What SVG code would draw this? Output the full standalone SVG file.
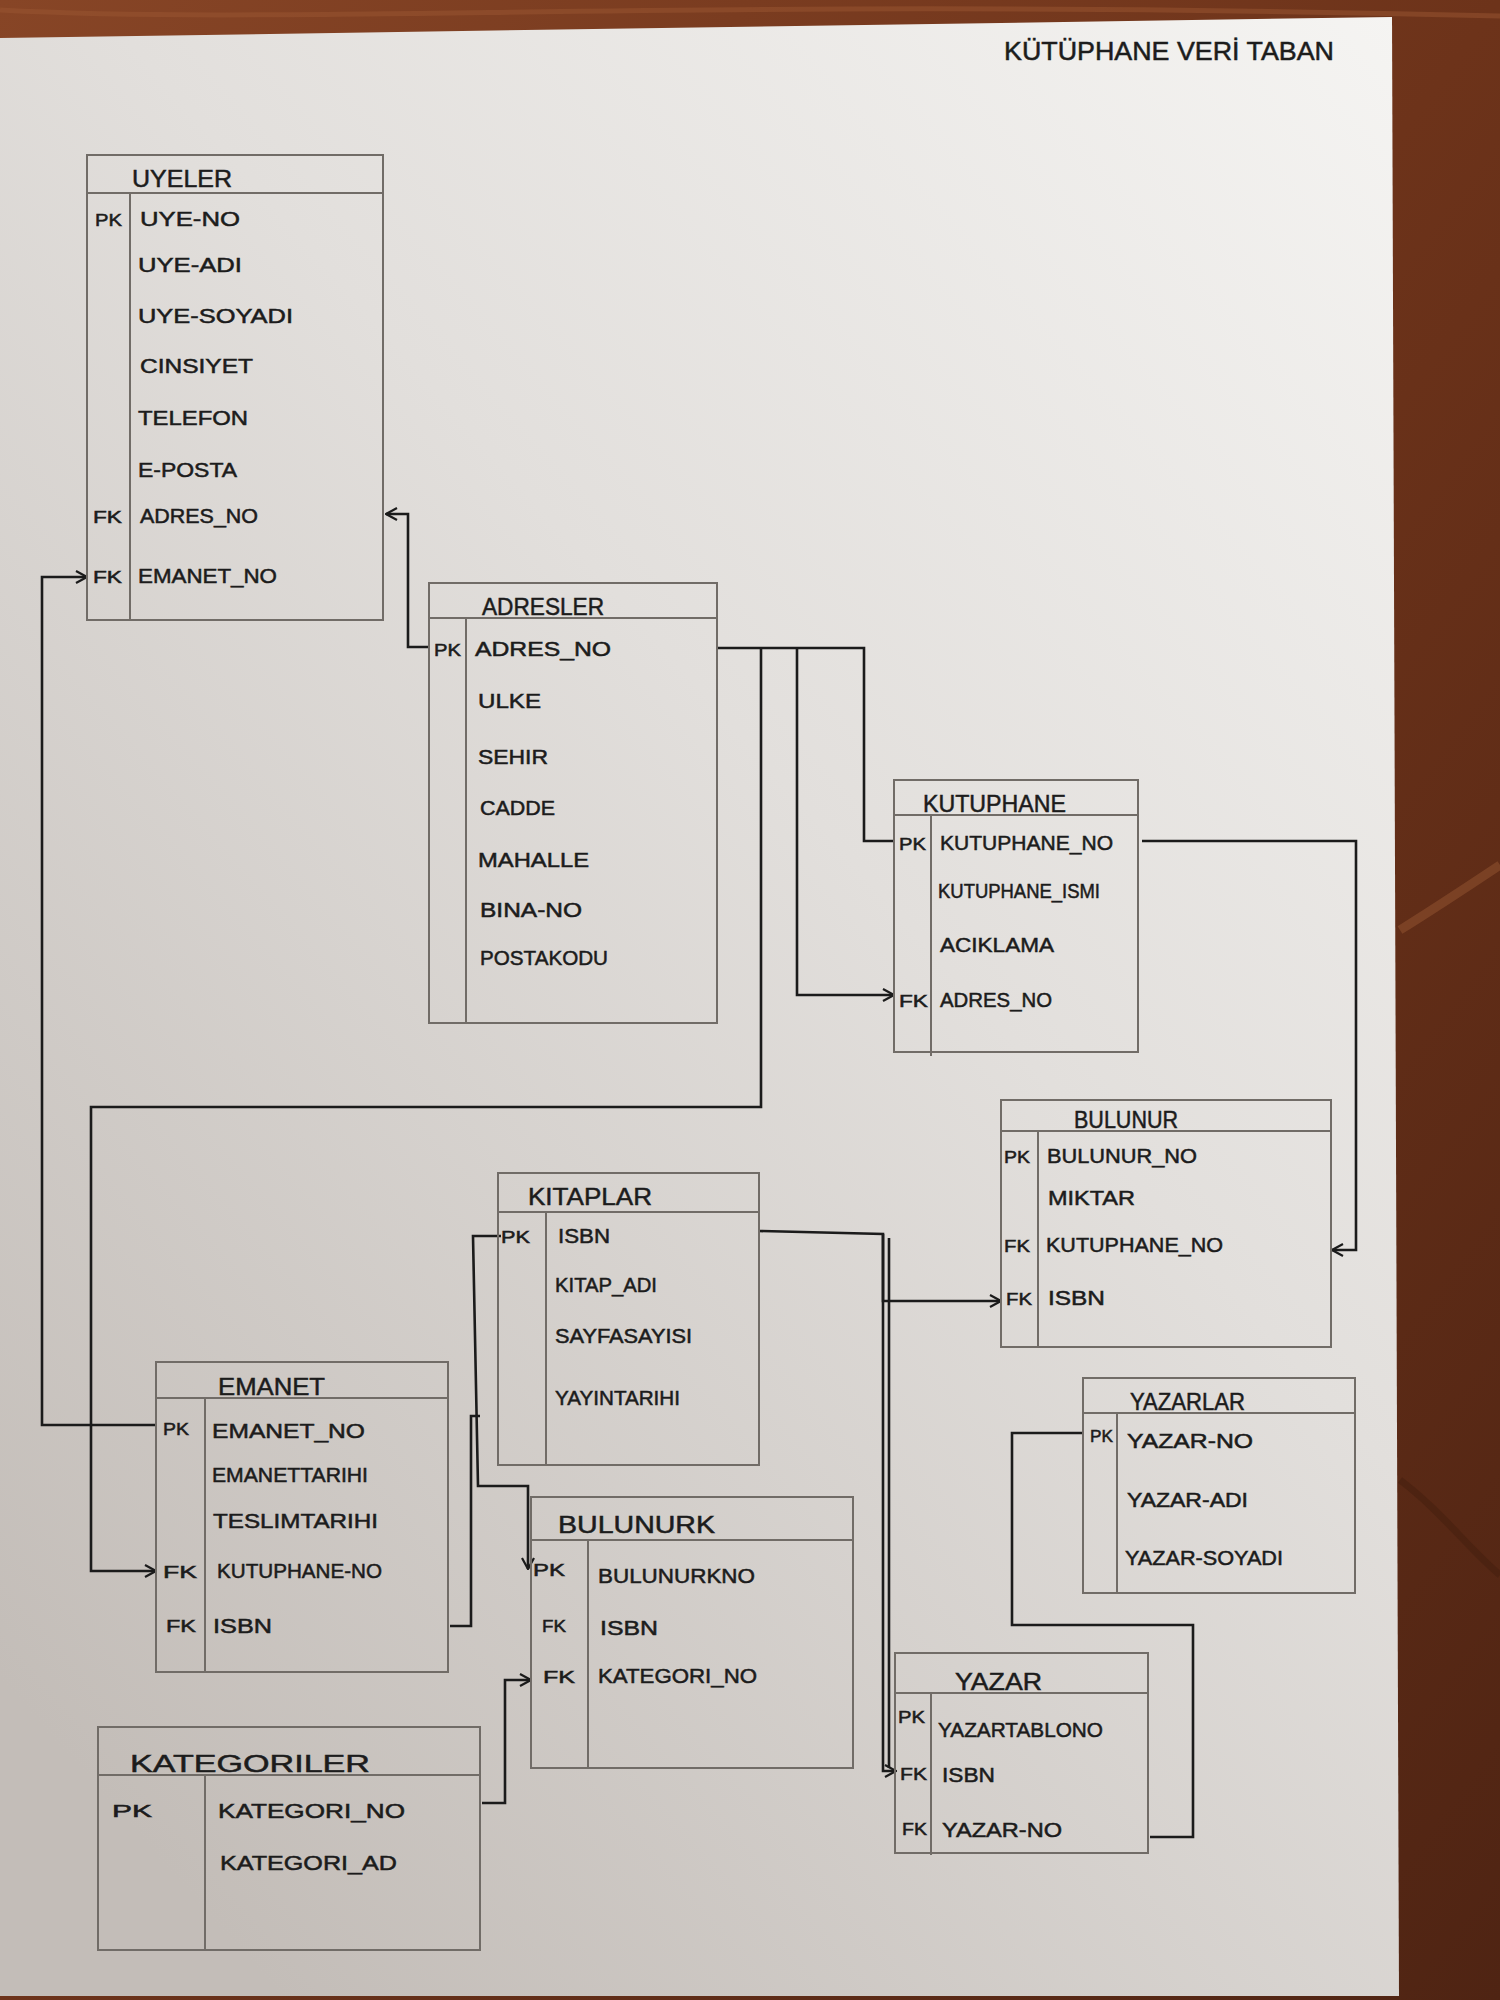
<svg xmlns="http://www.w3.org/2000/svg" width="1500" height="2000" viewBox="0 0 1500 2000">
<defs>
  <linearGradient id="wood" x1="0" y1="0" x2="1" y2="1">
    <stop offset="0" stop-color="#874526"/>
    <stop offset="0.5" stop-color="#6d331a"/>
    <stop offset="1" stop-color="#4f2413"/>
  </linearGradient>
  <linearGradient id="paper" x1="1" y1="0" x2="0.2" y2="1">
    <stop offset="0" stop-color="#f5f4f2"/>
    <stop offset="0.45" stop-color="#e2dfdc"/>
    <stop offset="1" stop-color="#c3bdb8"/>
  </linearGradient>
  <marker id="arr" viewBox="0 0 14 14" refX="13" refY="7" markerWidth="14" markerHeight="14" markerUnits="userSpaceOnUse" orient="auto">
    <path d="M2,1 L13,7 L2,13" fill="none" stroke="#1b1b1b" stroke-width="2.2"/>
  </marker>
</defs>
<style>
  .box{fill:none;stroke:#716c67;stroke-width:2}
  .ln{stroke:#716c67;stroke-width:2;fill:none}
  .c{fill:none;stroke:#1b1b1b;stroke-width:2.6;stroke-linejoin:miter}
  .ca{fill:none;stroke:#1b1b1b;stroke-width:2.6;marker-end:url(#arr)}
  text{font-family:"Liberation Sans",Arial,sans-serif;fill:#1c1c1c;stroke:#1c1c1c;stroke-width:0.5}
  .f{font-size:20px}
  .k{font-size:17px}
  .h{font-size:24px}
</style>

<!-- background -->
<rect x="0" y="0" width="1500" height="2000" fill="url(#wood)"/>
<path d="M0,10 C300,26 700,-4 1500,16" stroke="#9a5532" stroke-width="5" fill="none" opacity="0.5"/>
<path d="M1400,930 C1440,905 1470,885 1500,865" stroke="#9c5a36" stroke-width="9" fill="none" opacity="0.45"/>
<path d="M1400,1480 C1440,1510 1470,1550 1500,1575" stroke="#3f1b0c" stroke-width="7" fill="none" opacity="0.4"/>
<polygon points="0,38 1392,17 1399,1996 0,1996" fill="url(#paper)"/>

<!-- title -->
<text x="1004" y="60" font-size="26" textLength="330" lengthAdjust="spacingAndGlyphs">KÜTÜPHANE VERİ TABAN</text>

<!-- connectors -->
<g id="connectors">
  <path class="ca" d="M429,647 H408 V514 H386"/>
  <path class="c" d="M717,648 H864 V841 H893"/>
  <path class="ca" d="M761,648 V1107 H91 V1571 H156"/>
  <path class="ca" d="M797,648 V995 H894"/>
  <path class="ca" d="M1142,841 H1356 V1250 H1332"/>
  <path class="ca" d="M156,1425 H42 V577 H87"/>
  <path class="ca" d="M501,1236 H473 L478,1486 H528 V1569"/>
  <path class="c" d="M450,1626 H471 V1416 H480"/>
  <path class="ca" d="M482,1803 H505 V1680 H531"/>
  <path class="ca" d="M759,1231 L883,1234 V1301 H1001"/>
  <path class="ca" d="M883,1234 V1771 H896"/>
  <path class="c" d="M889,1238 V1768" stroke-width="2"/>
  <path class="c" d="M1083,1433 H1012 V1625 H1193 V1837 H1150"/>
</g>

<!-- UYELER -->
<g id="uyeler">
  <rect class="box" x="87" y="155" width="296" height="465"/>
  <line class="ln" x1="87" y1="193" x2="383" y2="193"/>
  <line class="ln" x1="130" y1="193" x2="130" y2="620"/>
  <text class="h" x="132" y="187" font-size="21" textLength="100" lengthAdjust="spacingAndGlyphs">UYELER</text>
  <text class="k" x="95" y="226" textLength="27" lengthAdjust="spacingAndGlyphs">PK</text>
  <text class="f" x="140" y="226" font-size="19" textLength="100" lengthAdjust="spacingAndGlyphs">UYE-NO</text>
  <text class="f" x="138" y="272" font-size="19" textLength="104" lengthAdjust="spacingAndGlyphs">UYE-ADI</text>
  <text class="f" x="138" y="323" font-size="19" textLength="155" lengthAdjust="spacingAndGlyphs">UYE-SOYADI</text>
  <text class="f" x="140" y="373" font-size="19" textLength="113" lengthAdjust="spacingAndGlyphs">CINSIYET</text>
  <text class="f" x="138" y="425" font-size="19" textLength="110" lengthAdjust="spacingAndGlyphs">TELEFON</text>
  <text class="f" x="138" y="477" font-size="18" textLength="99" lengthAdjust="spacingAndGlyphs">E-POSTA</text>
  <text class="k" x="93" y="523" textLength="29" lengthAdjust="spacingAndGlyphs">FK</text>
  <text class="f" x="140" y="523" font-size="19" textLength="118" lengthAdjust="spacingAndGlyphs">ADRES_NO</text>
  <text class="k" x="93" y="583" textLength="29" lengthAdjust="spacingAndGlyphs">FK</text>
  <text class="f" x="138" y="583" font-size="19" textLength="139" lengthAdjust="spacingAndGlyphs">EMANET_NO</text>
</g>

<!-- ADRESLER -->
<g id="adresler">
  <rect class="box" x="429" y="583" width="288" height="440"/>
  <line class="ln" x1="429" y1="618" x2="717" y2="618"/>
  <line class="ln" x1="466" y1="618" x2="466" y2="1023"/>
  <text class="h" x="482" y="615" font-size="23" textLength="122" lengthAdjust="spacingAndGlyphs">ADRESLER</text>
  <text class="k" x="434" y="656" font-size="19" textLength="27" lengthAdjust="spacingAndGlyphs">PK</text>
  <text class="f" x="475" y="656" font-size="21" textLength="136" lengthAdjust="spacingAndGlyphs">ADRES_NO</text>
  <text class="f" x="478" y="708" font-size="21" textLength="63" lengthAdjust="spacingAndGlyphs">ULKE</text>
  <text class="f" x="478" y="764" font-size="21" textLength="70" lengthAdjust="spacingAndGlyphs">SEHIR</text>
  <text class="f" x="480" y="815" font-size="21" textLength="75" lengthAdjust="spacingAndGlyphs">CADDE</text>
  <text class="f" x="478" y="867" font-size="21" textLength="111" lengthAdjust="spacingAndGlyphs">MAHALLE</text>
  <text class="f" x="480" y="917" font-size="21" textLength="102" lengthAdjust="spacingAndGlyphs">BINA-NO</text>
  <text class="f" x="480" y="965" font-size="21" textLength="128" lengthAdjust="spacingAndGlyphs">POSTAKODU</text>
</g>

<!-- KUTUPHANE -->
<g id="kutuphane">
  <rect class="box" x="894" y="780" width="244" height="272"/>
  <line class="ln" x1="894" y1="815" x2="1138" y2="815"/>
  <line class="ln" x1="931" y1="815" x2="931" y2="1056"/>
  <text class="h" x="923" y="812" font-size="26" textLength="143" lengthAdjust="spacingAndGlyphs">KUTUPHANE</text>
  <text class="k" x="899" y="850" textLength="27" lengthAdjust="spacingAndGlyphs">PK</text>
  <text class="f" x="940" y="850" font-size="19" textLength="173" lengthAdjust="spacingAndGlyphs">KUTUPHANE_NO</text>
  <text class="f" x="938" y="898" font-size="15" textLength="162" lengthAdjust="spacingAndGlyphs">KUTUPHANE_ISMI</text>
  <text class="f" x="940" y="952" font-size="19" textLength="114" lengthAdjust="spacingAndGlyphs">ACIKLAMA</text>
  <text class="k" x="899" y="1007" textLength="29" lengthAdjust="spacingAndGlyphs">FK</text>
  <text class="f" x="940" y="1007" font-size="19" textLength="112" lengthAdjust="spacingAndGlyphs">ADRES_NO</text>
</g>

<!-- BULUNUR -->
<g id="bulunur">
  <rect class="box" x="1001" y="1100" width="330" height="247"/>
  <line class="ln" x1="1001" y1="1131" x2="1331" y2="1131"/>
  <line class="ln" x1="1038" y1="1131" x2="1038" y2="1347"/>
  <text class="h" x="1074" y="1128" font-size="22" textLength="104" lengthAdjust="spacingAndGlyphs">BULUNUR</text>
  <text class="k" x="1004" y="1163" textLength="26" lengthAdjust="spacingAndGlyphs">PK</text>
  <text class="f" x="1047" y="1163" font-size="19" textLength="150" lengthAdjust="spacingAndGlyphs">BULUNUR_NO</text>
  <text class="f" x="1048" y="1205" font-size="19" textLength="87" lengthAdjust="spacingAndGlyphs">MIKTAR</text>
  <text class="k" x="1004" y="1252" textLength="26" lengthAdjust="spacingAndGlyphs">FK</text>
  <text class="f" x="1046" y="1252" font-size="19" textLength="177" lengthAdjust="spacingAndGlyphs">KUTUPHANE_NO</text>
  <text class="k" x="1006" y="1305" textLength="26" lengthAdjust="spacingAndGlyphs">FK</text>
  <text class="f" x="1048" y="1305" font-size="19" textLength="57" lengthAdjust="spacingAndGlyphs">ISBN</text>
</g>

<!-- KITAPLAR -->
<g id="kitaplar">
  <rect class="box" x="498" y="1173" width="261" height="292"/>
  <line class="ln" x1="498" y1="1212" x2="759" y2="1212"/>
  <line class="ln" x1="546" y1="1212" x2="546" y2="1465"/>
  <text class="h" x="528" y="1205" font-size="25" textLength="124" lengthAdjust="spacingAndGlyphs">KITAPLAR</text>
  <text class="k" x="501" y="1243" font-size="19" textLength="29" lengthAdjust="spacingAndGlyphs">PK</text>
  <text class="f" x="558" y="1243" font-size="22" textLength="52" lengthAdjust="spacingAndGlyphs">ISBN</text>
  <text class="f" x="555" y="1292" font-size="22" textLength="102" lengthAdjust="spacingAndGlyphs">KITAP_ADI</text>
  <text class="f" x="555" y="1343" font-size="22" textLength="137" lengthAdjust="spacingAndGlyphs">SAYFASAYISI</text>
  <text class="f" x="555" y="1405" font-size="22" textLength="125" lengthAdjust="spacingAndGlyphs">YAYINTARIHI</text>
</g>

<!-- EMANET -->
<g id="emanet">
  <rect class="box" x="156" y="1362" width="292" height="310"/>
  <line class="ln" x1="156" y1="1398" x2="448" y2="1398"/>
  <line class="ln" x1="205" y1="1398" x2="205" y2="1672"/>
  <text class="h" x="218" y="1395" font-size="25" textLength="107" lengthAdjust="spacingAndGlyphs">EMANET</text>
  <text class="k" x="163" y="1435" font-size="18" textLength="26" lengthAdjust="spacingAndGlyphs">PK</text>
  <text class="f" x="212" y="1438" font-size="27" textLength="153" lengthAdjust="spacingAndGlyphs">EMANET_NO</text>
  <text class="f" x="212" y="1482" font-size="23" textLength="156" lengthAdjust="spacingAndGlyphs">EMANETTARIHI</text>
  <text class="f" x="213" y="1528" font-size="23" textLength="165" lengthAdjust="spacingAndGlyphs">TESLIMTARIHI</text>
  <text class="k" x="163" y="1578" font-size="23" textLength="34" lengthAdjust="spacingAndGlyphs">FK</text>
  <text class="f" x="217" y="1578" font-size="25" textLength="165" lengthAdjust="spacingAndGlyphs">KUTUPHANE-NO</text>
  <text class="k" x="166" y="1632" font-size="21" textLength="30" lengthAdjust="spacingAndGlyphs">FK</text>
  <text class="f" x="213" y="1633" font-size="23" textLength="59" lengthAdjust="spacingAndGlyphs">ISBN</text>
</g>

<!-- BULUNURK -->
<g id="bulunurk">
  <rect class="box" x="531" y="1497" width="322" height="271"/>
  <line class="ln" x1="531" y1="1540" x2="853" y2="1540"/>
  <line class="ln" x1="588" y1="1540" x2="588" y2="1768"/>
  <text class="h" x="558" y="1533" font-size="30" textLength="157" lengthAdjust="spacingAndGlyphs">BULUNURK</text>
  <text class="k" x="533" y="1576" font-size="19" textLength="32" lengthAdjust="spacingAndGlyphs">PK</text>
  <text class="f" x="598" y="1583" font-size="25" textLength="157" lengthAdjust="spacingAndGlyphs">BULUNURKNO</text>
  <text class="k" x="542" y="1632" font-size="20" textLength="24" lengthAdjust="spacingAndGlyphs">FK</text>
  <text class="f" x="600" y="1635" font-size="24" textLength="58" lengthAdjust="spacingAndGlyphs">ISBN</text>
  <text class="k" x="543" y="1683" font-size="21" textLength="32" lengthAdjust="spacingAndGlyphs">FK</text>
  <text class="f" x="598" y="1683" font-size="23" textLength="159" lengthAdjust="spacingAndGlyphs">KATEGORI_NO</text>
</g>

<!-- KATEGORILER -->
<g id="kategoriler">
  <rect class="box" x="98" y="1727" width="382" height="223"/>
  <line class="ln" x1="98" y1="1775" x2="480" y2="1775"/>
  <line class="ln" x1="205" y1="1775" x2="205" y2="1950"/>
  <text class="h" x="130" y="1772" font-size="39" textLength="240" lengthAdjust="spacingAndGlyphs">KATEGORILER</text>
  <text class="k" x="112" y="1817" font-size="34" textLength="40" lengthAdjust="spacingAndGlyphs">PK</text>
  <text class="f" x="218" y="1818" font-size="32" textLength="187" lengthAdjust="spacingAndGlyphs">KATEGORI_NO</text>
  <text class="f" x="220" y="1870" font-size="33" textLength="177" lengthAdjust="spacingAndGlyphs">KATEGORI_AD</text>
</g>

<!-- YAZARLAR -->
<g id="yazarlar">
  <rect class="box" x="1083" y="1378" width="272" height="215"/>
  <line class="ln" x1="1083" y1="1413" x2="1355" y2="1413"/>
  <line class="ln" x1="1117" y1="1413" x2="1117" y2="1593"/>
  <text class="h" x="1130" y="1410" font-size="27" textLength="115" lengthAdjust="spacingAndGlyphs">YAZARLAR</text>
  <text class="k" x="1090" y="1442" font-size="17" textLength="23" lengthAdjust="spacingAndGlyphs">PK</text>
  <text class="f" x="1127" y="1448" font-size="26" textLength="126" lengthAdjust="spacingAndGlyphs">YAZAR-NO</text>
  <text class="f" x="1127" y="1507" font-size="24" textLength="121" lengthAdjust="spacingAndGlyphs">YAZAR-ADI</text>
  <text class="f" x="1125" y="1565" font-size="24" textLength="158" lengthAdjust="spacingAndGlyphs">YAZAR-SOYADI</text>
</g>

<!-- YAZAR -->
<g id="yazar">
  <rect class="box" x="895" y="1653" width="253" height="200"/>
  <line class="ln" x1="895" y1="1693" x2="1148" y2="1693"/>
  <line class="ln" x1="931" y1="1693" x2="931" y2="1855"/>
  <text class="h" x="955" y="1690" font-size="34" textLength="87" lengthAdjust="spacingAndGlyphs">YAZAR</text>
  <text class="k" x="898" y="1723" font-size="17" textLength="27" lengthAdjust="spacingAndGlyphs">PK</text>
  <text class="f" x="938" y="1737" font-size="30" textLength="165" lengthAdjust="spacingAndGlyphs">YAZARTABLONO</text>
  <text class="k" x="900" y="1780" font-size="18" textLength="27" lengthAdjust="spacingAndGlyphs">FK</text>
  <text class="f" x="942" y="1782" font-size="23" textLength="53" lengthAdjust="spacingAndGlyphs">ISBN</text>
  <text class="k" x="902" y="1835" font-size="18" textLength="25" lengthAdjust="spacingAndGlyphs">FK</text>
  <text class="f" x="942" y="1837" font-size="26" textLength="120" lengthAdjust="spacingAndGlyphs">YAZAR-NO</text>
</g>
</svg>
